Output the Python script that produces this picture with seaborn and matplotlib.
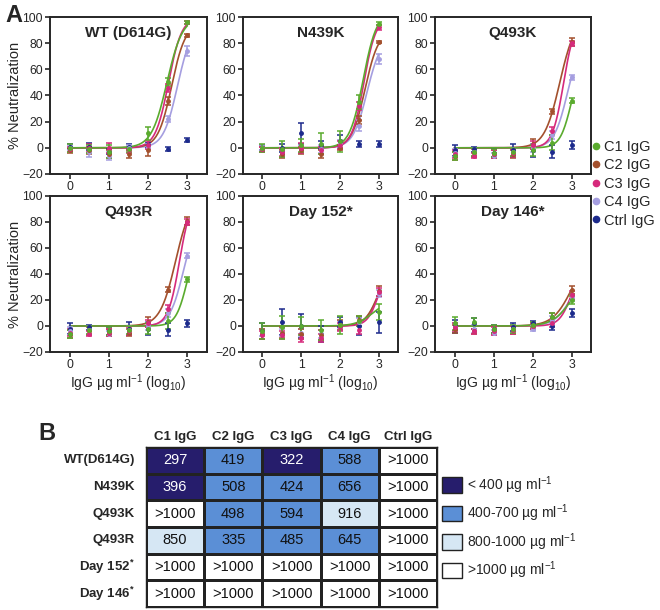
import matplotlib
matplotlib.use("Agg")
import matplotlib.pyplot as plt
from matplotlib.colors import ListedColormap
from matplotlib.lines import Line2D
from matplotlib.patches import Patch
import numpy as np
import pandas as pd
import seaborn as sns

sns.set_style("ticks")
plt.rcParams["font.family"] = ["Liberation Sans", "DejaVu Sans"]
plt.rcParams["mathtext.default"] = "regular"

# ---- panel A data -------------------------------------------------------
DOSES = [0, 0.5, 1, 1.5, 2, 2.5, 3]
SERIES = ["C1 IgG", "C2 IgG", "C3 IgG", "C4 IgG", "Ctrl IgG"]
COLORS = {
    "C1 IgG": "#5aab2e",
    "C2 IgG": "#a3502d",
    "C3 IgG": "#d62a7c",
    "C4 IgG": "#a59ee0",
    "Ctrl IgG": "#1c2a8c",
}
PANELS = ["WT (D614G)", "N439K", "Q493K", "Q493R", "Day 152*", "Day 146*"]

WT_MEAN = {
    "C1 IgG": [0, -1, -3, -1, 11, 50, 96],
    "C2 IgG": [-2, -2, -5, -5, -2, 36, 86],
    "C3 IgG": [-1, 0, 0, -2, 2, 46, 96],
    "C4 IgG": [0, -3, -6, 0, 1, 22, 74],
    "Ctrl IgG": [1, 1, -3, 1, 2, -1, 6],
}
WT_SD = {
    "C1 IgG": [3, 3, 5, 2, 5, 3, 1],
    "C2 IgG": [2, 3, 3, 3, 4, 3, 1],
    "C3 IgG": [2, 3, 4, 2, 3, 3, 1],
    "C4 IgG": [2, 4, 3, 2, 2, 2, 4],
    "Ctrl IgG": [2, 3, 2, 2, 2, 1.5, 1.5],
}
N439K_MEAN = {
    "C1 IgG": [0, -1, 2, 3, 5, 35, 95],
    "C2 IgG": [-1, -5, -2, -5, 0, 21, 81],
    "C3 IgG": [-1, -3, 0, -2, 2, 32, 92],
    "C4 IgG": [0, -4, -1, -1, 3, 17, 68],
    "Ctrl IgG": [0, 0, 11, 2, 5, 3, 3],
}
N439K_SD = {
    "C1 IgG": [3, 6, 5, 8, 8, 5, 1],
    "C2 IgG": [2, 3, 3, 3, 2, 3, 1],
    "C3 IgG": [2, 3, 4, 3, 3, 3, 2],
    "C4 IgG": [2, 3, 3, 3, 3, 4, 4],
    "Ctrl IgG": [2, 3, 8, 3, 5, 2, 2],
}
Q493K_MEAN = {
    "C1 IgG": [-6, -3, -4, -3, -2, 4, 36],
    "C2 IgG": [-6, -4, -5, -5, 3, 28, 81],
    "C3 IgG": [-5, -6, -5, -4, 2, 13, 80],
    "C4 IgG": [-4, -3, -6, -3, 0, 10, 54],
    "Ctrl IgG": [-2, -1, -4, -2, -2, -3, 2],
}
Q493K_SD = {
    "C1 IgG": [3, 3, 3, 3, 4, 6, 2],
    "C2 IgG": [3, 3, 3, 3, 4, 2, 3],
    "C3 IgG": [3, 2, 3, 3, 3, 3, 2],
    "C4 IgG": [3, 3, 2, 3, 3, 3, 2],
    "Ctrl IgG": [4, 2, 3, 5, 5, 5, 3],
}
Q493R_MEAN = {
    "C1 IgG": [-6, -3, -4, -3, -2, 4, 36],
    "C2 IgG": [-6, -4, -5, -5, 3, 28, 81],
    "C3 IgG": [-5, -6, -5, -4, 2, 13, 80],
    "C4 IgG": [-4, -3, -6, -3, 0, 10, 54],
    "Ctrl IgG": [-2, -1, -4, -2, -2, -3, 2],
}
Q493R_SD = {
    "C1 IgG": [3, 3, 3, 3, 4, 6, 2],
    "C2 IgG": [3, 3, 3, 3, 4, 2, 3],
    "C3 IgG": [3, 2, 3, 3, 3, 3, 2],
    "C4 IgG": [3, 3, 2, 3, 3, 3, 2],
    "Ctrl IgG": [4, 2, 3, 5, 5, 5, 3],
}
DAY152_MEAN = {
    "C1 IgG": [-4, -1, 0, -3, 1, 4, 11],
    "C2 IgG": [-6, -5, -6, -7, 1, 5, 27],
    "C3 IgG": [-7, -7, -9, -9, -1, -3, 26],
    "C4 IgG": [-5, -5, -5, -6, 1, 3, 25],
    "Ctrl IgG": [-4, 3, 0, -6, 3, 0, 3],
}
DAY152_SD = {
    "C1 IgG": [6, 9, 7, 8, 7, 4, 6],
    "C2 IgG": [4, 4, 4, 4, 4, 3, 4],
    "C3 IgG": [3, 3, 3, 3, 3, 3, 3],
    "C4 IgG": [3, 3, 3, 3, 3, 3, 3],
    "Ctrl IgG": [6, 10, 9, 6, 4, 7, 8],
}
DAY146_MEAN = {
    "C1 IgG": [2, 3, -2, -2, 1, 7, 20],
    "C2 IgG": [-2, -4, -3, -3, 0, 7, 28],
    "C3 IgG": [-1, -4, -4, -3, 0, 2, 24],
    "C4 IgG": [-1, -2, -5, -2, -2, 5, 22],
    "Ctrl IgG": [0, 2, -2, -1, 2, 0, 10],
}
DAY146_SD = {
    "C1 IgG": [5, 3, 3, 3, 2, 3, 3],
    "C2 IgG": [3, 2, 3, 3, 2, 3, 3],
    "C3 IgG": [3, 2, 3, 3, 2, 3, 3],
    "C4 IgG": [3, 3, 2, 3, 2, 3, 3],
    "Ctrl IgG": [5, 4, 3, 3, 2, 3, 3],
}

# fitted curves: (top, logEC50, hill slope), bottom fixed at 0
WT_FIT = {"C1 IgG": (100, 2.48, 2.2), "C2 IgG": (95, 2.6, 2.5),
          "C3 IgG": (100, 2.52, 2.6), "C4 IgG": (95, 2.75, 2.4)}
N439K_FIT = {"C1 IgG": (104, 2.6, 2.5), "C2 IgG": (90, 2.65, 2.5),
             "C3 IgG": (100, 2.62, 2.8), "C4 IgG": (85, 2.7, 2.4)}
Q493K_FIT = {"C1 IgG": (70, 3.0, 3.0), "C2 IgG": (100, 2.7, 2.2),
             "C3 IgG": (100, 2.8, 3.0), "C4 IgG": (85, 2.9, 2.5)}
Q493R_FIT = {"C1 IgG": (70, 3.0, 3.0), "C2 IgG": (100, 2.7, 2.2),
             "C3 IgG": (100, 2.8, 3.0), "C4 IgG": (85, 2.9, 2.5)}
DAY152_FIT = {"C1 IgG": (20, 2.85, 2.0), "C2 IgG": (50, 3.0, 2.5),
              "C3 IgG": (48, 3.0, 3.0), "C4 IgG": (48, 3.0, 2.5)}
DAY146_FIT = {"C1 IgG": (40, 3.0, 1.8), "C2 IgG": (56, 3.0, 1.8),
              "C3 IgG": (48, 3.0, 2.8), "C4 IgG": (44, 3.0, 2.0)}

# ---- panel B data -------------------------------------------------------
TABLE_ROWS = ["WT(D614G)", "N439K", "Q493K", "Q493R", "Day 152$^{*}$", "Day 146$^{*}$"]
TABLE_COLS = ["C1 IgG", "C2 IgG", "C3 IgG", "C4 IgG", "Ctrl IgG"]
IC50_C1 = [297, 396, ">1000", 850, ">1000", ">1000"]
IC50_C2 = [419, 508, 498, 335, ">1000", ">1000"]
IC50_C3 = [322, 424, 594, 485, ">1000", ">1000"]
IC50_C4 = [588, 656, 916, 645, ">1000", ">1000"]
IC50_CTRL = [">1000", ">1000", ">1000", ">1000", ">1000", ">1000"]
# colour class per cell: 0 <400, 1 400-700, 2 800-1000, 3 >1000
BIN_C1 = [0, 0, 3, 2, 3, 3]
BIN_C2 = [1, 1, 1, 1, 3, 3]
BIN_C3 = [0, 1, 1, 1, 3, 3]
BIN_C4 = [1, 1, 2, 1, 3, 3]
BIN_CTRL = [3, 3, 3, 3, 3, 3]
BIN_COLORS = ["#261d6c", "#5b8fd6", "#d6e7f4", "#ffffff"]
BIN_LABELS = ["< 400 µg ml$^{-1}$", "400-700 µg ml$^{-1}$",
              "800-1000 µg ml$^{-1}$", ">1000 µg ml$^{-1}$"]

PANEL_DATA = [
    (WT_MEAN, WT_SD, WT_FIT),
    (N439K_MEAN, N439K_SD, N439K_FIT),
    (Q493K_MEAN, Q493K_SD, Q493K_FIT),
    (Q493R_MEAN, Q493R_SD, Q493R_FIT),
    (DAY152_MEAN, DAY152_SD, DAY152_FIT),
    (DAY146_MEAN, DAY146_SD, DAY146_FIT),
]

W, H = 660, 610


def px_axes(fig, x0, y0, x1, y1):
    return fig.add_axes([x0 / W, 1 - y1 / H, (x1 - x0) / W, (y1 - y0) / H])


def draw_panel(ax, title, mean, sd, fit, first_col, bottom_row):
    grid = np.linspace(0, 3, 200)
    order = ["C4 IgG", "C2 IgG", "C3 IgG", "C1 IgG"]
    for name in order:
        top, logec, hill = fit[name]
        curve = pd.DataFrame({"x": grid, "y": top / (1 + 10 ** ((logec - grid) * hill))})
        sns.lineplot(data=curve, x="x", y="y", color=COLORS[name], lw=1.2, ax=ax)
    for name in ["Ctrl IgG"] + order:
        ax.errorbar(DOSES, mean[name], yerr=sd[name], fmt="o", ms=2.5,
                    color=COLORS[name], elinewidth=1.1, capsize=2, capthick=1.1)

    ax.set_xlim(-0.5, 3.5)
    ax.set_ylim(-20, 100)
    ax.set_xticks([0, 1, 2, 3])
    ax.set_yticks(range(-20, 101, 20))
    ax.tick_params(labelsize=8.8, width=1.2, length=3.5, pad=1.5)
    for spine in ax.spines.values():
        spine.set_visible(True)
        spine.set_linewidth(1.4)
    ax.set_xlabel("")
    ax.set_ylabel("")
    ax.text(0.5, 0.9, title, transform=ax.transAxes, ha="center", va="center",
            fontsize=11, fontweight="bold")
    if first_col:
        ax.set_ylabel("% Neutralization", fontsize=10.5, labelpad=0)
    if bottom_row:
        ax.set_xlabel("IgG µg ml$^{-1}$ (log$_{10}$)", fontsize=10, labelpad=1)


def draw_table(fig):
    ax = px_axes(fig, 146, 447, 437, 607)
    bins = pd.DataFrame({"C1 IgG": BIN_C1, "C2 IgG": BIN_C2, "C3 IgG": BIN_C3,
                         "C4 IgG": BIN_C4, "Ctrl IgG": BIN_CTRL}, index=TABLE_ROWS)
    labels = pd.DataFrame({"C1 IgG": IC50_C1, "C2 IgG": IC50_C2, "C3 IgG": IC50_C3,
                           "C4 IgG": IC50_C4, "Ctrl IgG": IC50_CTRL}, index=TABLE_ROWS)
    sns.heatmap(bins, cmap=ListedColormap(BIN_COLORS), vmin=-0.5, vmax=3.5,
                annot=labels.astype(str).values, fmt="", cbar=False,
                linewidths=0.8, linecolor="#222222", annot_kws={"fontsize": 10.5}, ax=ax)
    # white text only on the darkest class
    flat_bins = bins.values.flatten()
    for text, b in zip(ax.texts, flat_bins):
        text.set_color("white" if b == 0 else "#111111")
    for spine in ax.spines.values():
        spine.set_visible(True)
        spine.set_linewidth(1)
        spine.set_color("#222222")
    ax.xaxis.tick_top()
    ax.set_xticklabels(TABLE_COLS, fontsize=9.5, fontweight="bold")
    ax.set_yticklabels(TABLE_ROWS, rotation=0, fontsize=9.5, fontweight="bold")
    ax.tick_params(length=0)
    ax.tick_params(axis="x", pad=3)
    ax.tick_params(axis="y", pad=8)
    ax.set_xlabel("")
    ax.set_ylabel("")

    handles = [Patch(facecolor=c, edgecolor="#222222", lw=1) for c in BIN_COLORS]
    fig.legend(handles, BIN_LABELS, loc="upper left",
               bbox_to_anchor=(442 / W, 1 - 474 / H), frameon=False,
               fontsize=10, handlelength=1.45, handleheight=1.35,
               handletextpad=0.35, labelspacing=0.5, borderpad=0, borderaxespad=0)


def main() -> None:
    fig = plt.figure(figsize=(6.6, 6.1), dpi=100)
    lefts = [(50, 207), (243, 398), (435, 591)]
    tops = [(17, 174), (196, 352)]
    for i, title in enumerate(PANELS):
        r, c = divmod(i, 3)
        ax = px_axes(fig, lefts[c][0], tops[r][0], lefts[c][1], tops[r][1])
        mean, sd, fit = PANEL_DATA[i]
        draw_panel(ax, title, mean, sd, fit, c == 0, r == 1)

    handles = [Line2D([], [], marker="o", ls="", ms=4.5, color=COLORS[s]) for s in SERIES]
    fig.legend(handles, SERIES, loc="upper left", bbox_to_anchor=(592 / W, 1 - 140 / H),
               frameon=False, fontsize=10.5, handlelength=0.5, handletextpad=0.3,
               labelspacing=0.3, borderpad=0, borderaxespad=0)

    draw_table(fig)

    fig.text(14 / W, 1 - 16 / H, "A", fontsize=17, fontweight="bold", ha="center", va="center")
    fig.text(47 / W, 1 - 433 / H, "B", fontsize=17, fontweight="bold", ha="center", va="center")

    fig.savefig("out.png", dpi=100)
    plt.close(fig)


if __name__ == "__main__":
    main()
